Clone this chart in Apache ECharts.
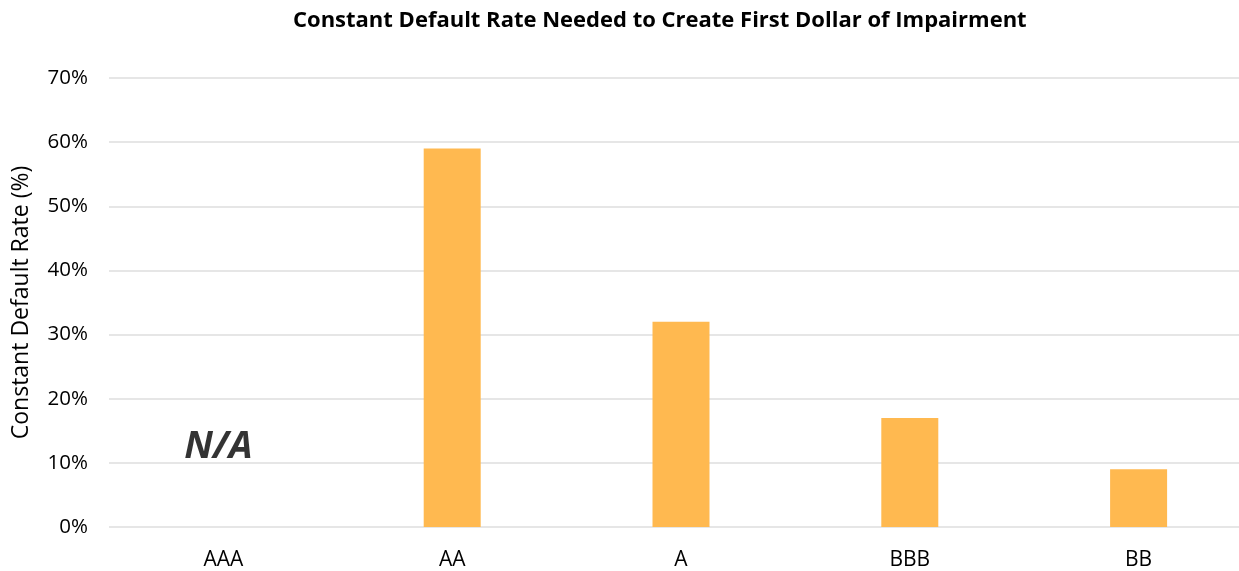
<!DOCTYPE html>
<html><head><meta charset="utf-8">
<script src="https://cdn.jsdelivr.net/npm/echarts@6/dist/echarts.min.js"></script>
<style>html,body{margin:0;padding:0;background:#fff;overflow:hidden}#c{width:1253px;height:571px}</style>
</head><body><div id="c"></div>
<script>
const categories = ['AAA', 'AA', 'A', 'BBB', 'BB'];
const values = [null, 59, 32, 17, 9];
const yTicks = [0, 10, 20, 30, 40, 50, 60, 70];
const naCategory = 'AAA';
const naValue = 12.4;
const naText = 'N/A';

const chart = echarts.init(document.getElementById('c'));
chart.setOption({
  animation: false,
  title: {
    text: 'Constant Default Rate Needed to Create First Dollar of Impairment',
    left: 288, top: 5,
    textStyle: { fontFamily: 'Open Sans', fontWeight: 'bold', fontSize: 22, color: '#000' }
  },
  grid: { left: 109, right: 0, top: 78, bottom: 42, containLabel: false },
  xAxis: {
    type: 'category', data: categories,
    axisLine: { show: false }, axisTick: { show: false },
    axisLabel: { fontFamily: 'Open Sans', fontSize: 21, color: '#000', margin: 23 }
  },
  yAxis: {
    type: 'value', min: yTicks[0], max: yTicks[yTicks.length - 1], interval: 10,
    name: 'Constant Default Rate (%)', nameLocation: 'middle', nameGap: 76,
    nameTextStyle: { fontFamily: 'Open Sans', fontSize: 23, color: '#000' },
    axisLabel: { formatter: '{value}%', fontFamily: 'Open Sans', fontSize: 20.5, color: '#000', margin: 21 },
    splitLine: { lineStyle: { color: '#E6E6E6', width: 2 } },
    axisLine: { show: false }, axisTick: { show: false }
  },
  series: [{
    type: 'bar', data: values, barWidth: 57,
    itemStyle: { color: '#FFB950' }
  }, {
    type: 'scatter', symbolSize: 0, silent: true,
    data: [[naCategory, naValue]],
    label: { show: true, position: 'inside', offset: [-5, 0], formatter: naText, fontFamily: 'Open Sans', fontWeight: 'bold', fontStyle: 'italic', fontSize: 38, color: '#000' }
  }]
});
</script></body></html>
